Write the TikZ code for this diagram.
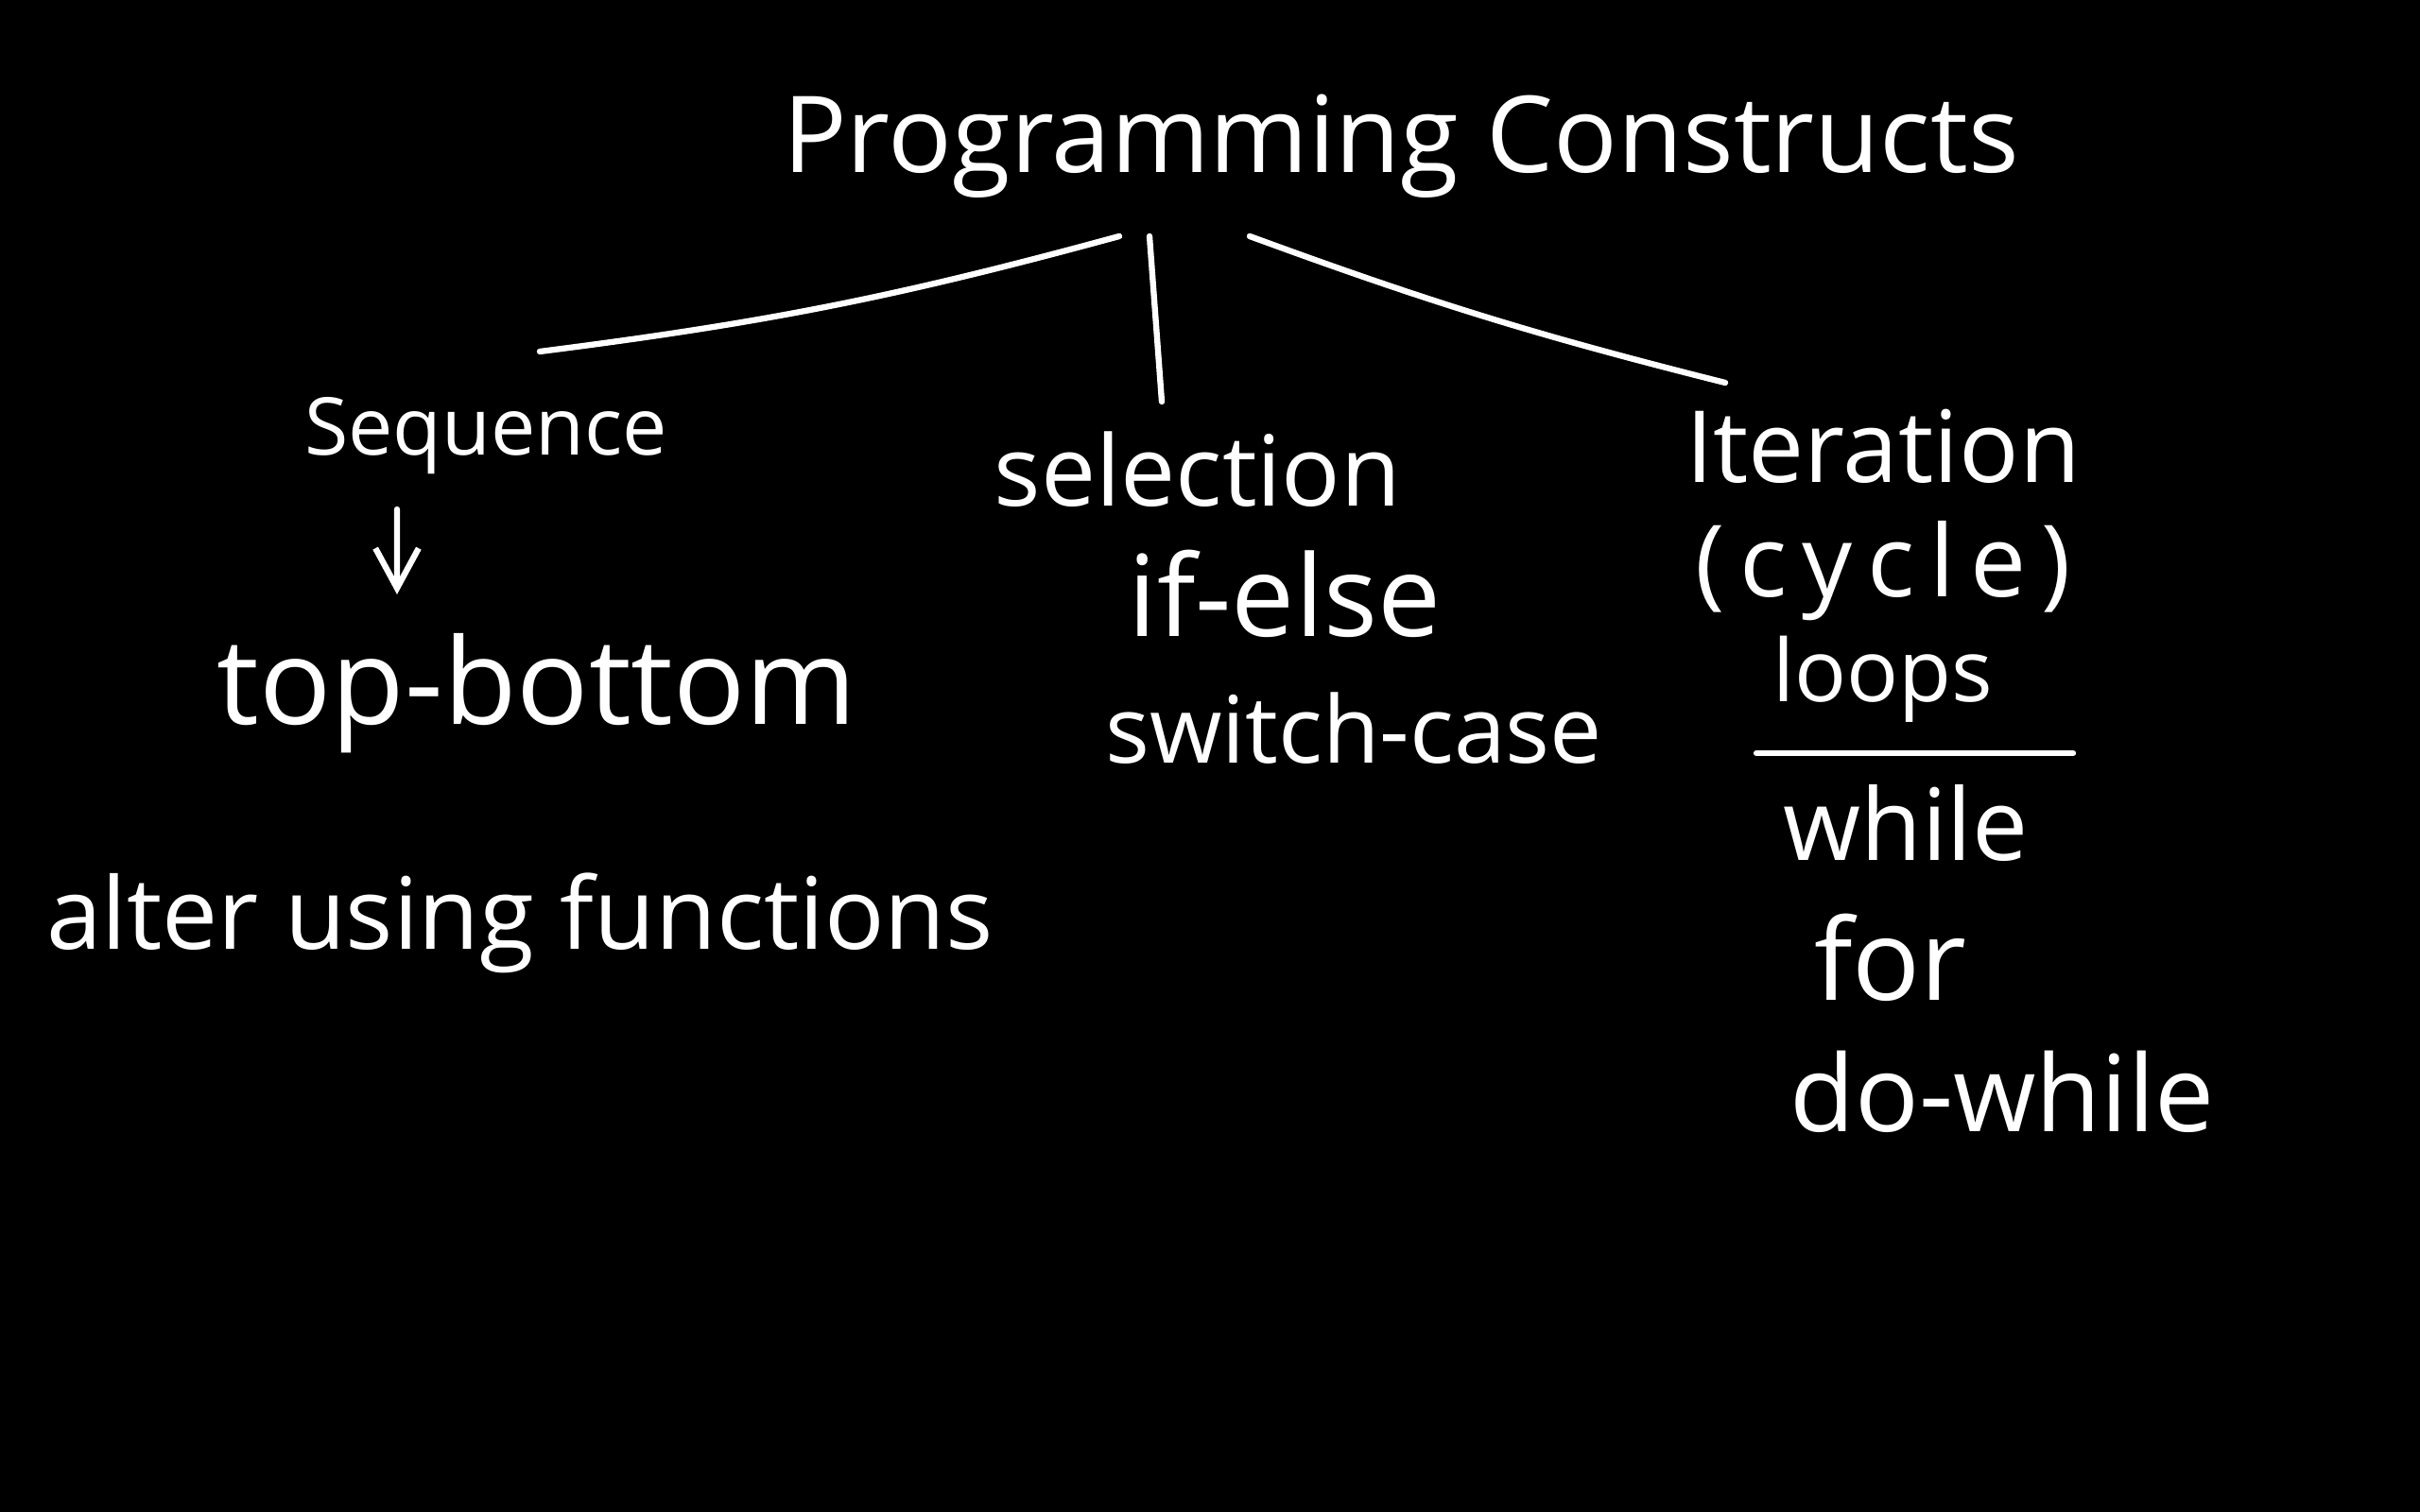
\documentclass[tikz,border=0pt]{standalone}
\usepackage{fontspec}
\setmainfont{Open Sans}
\usetikzlibrary{arrows.meta,positioning,calc}

\begin{document}
\begin{tikzpicture}[
    word/.style={text=white, inner sep=0pt, anchor=base, font=\fontsize{#1}{#1}\selectfont},
    word/.default=30,
    wire/.style={draw=white, line width=1.8pt, line cap=round},
    arr/.style={wire, -{Straight Barb[length=12pt, width=13pt, line width=1.8pt]}}]
  \useasboundingbox[fill=black] (0,0) rectangle (25.6,-16);

  % title and the three branches
  \node[word=32] (title) at (14.82,-1.83) {Programming Constructs};
  \node[word=24] (seq) at (5.14,-4.82) {Sequence};
  \node[word=29.5] (sel) at (12.67,-5.36) {selection};
  \node[word=30] (iter) at (19.92,-5.11) {Iteration};

  \draw[wire] ([shift={(-2.98,-0.67)}]title.base) to[bend left=4] ([shift={(0.57,1.10)}]seq.base);
  \draw[wire] ([shift={(-2.66,-0.67)}]title.base) -- ([shift={(-0.38,1.11)}]sel.base);
  \draw[wire] ([shift={(-1.60,-0.67)}]title.base) to[bend right=3] ([shift={(-1.67,1.06)}]iter.base);

  % sequence
  \node[word=36] (tb) at (5.68,-7.67) {top-bottom};
  \node[word=30] (alter) at (5.50,-10.04) {alter using functions};
  \draw[arr] ([shift={(-0.94,-0.57)}]seq.base) -- ([shift={(-1.48,1.38)}]tb.base);

  % selection
  \node[word=34] (ifelse) at (13.59,-6.74) {if-else};
  \node[word=28] (switch) at (14.32,-8.08) {switch-case};

  % iteration
  \node[word=30] (cycle) at (19.92,-6.32) {\addfontfeature{LetterSpace=15}(cycle)};
  \node[word=26] (loops) at (19.92,-7.43) {loops};
  \draw[wire] ([shift={(-1.34,-0.54)}]loops.base) -- ([shift={(2.01,-0.54)}]loops.base);
  \node[word=30] (while) at (20.16,-9.11) {while};
  \node[word=34] (for) at (20.00,-10.58) {for};
  \node[word=32] (dowhile) at (21.18,-11.97) {do-while};
\end{tikzpicture}
\end{document}
